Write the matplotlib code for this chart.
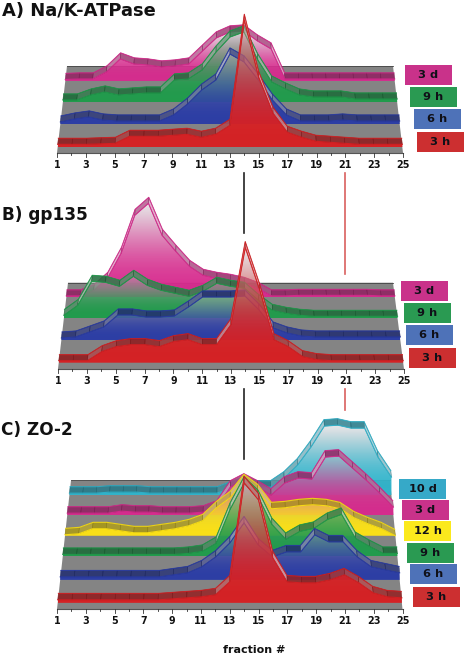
import numpy as np
import matplotlib
matplotlib.use('Agg')
from matplotlib import pyplot as plt
from matplotlib.colors import to_rgb
from matplotlib.patches import Polygon, Rectangle

fractions = list(range(1, 26))
tick_labels = list(range(1, 26, 2))
guide_fractions = [14, 21]

# heights of each curve
a_3d = [1.5, 2, 2, 9, 22, 17, 16, 14, 15, 17, 30, 43, 49, 50, 40, 32, 2, 2, 2, 2, 2, 2, 2, 2, 2]
a_9h = [2, 2, 7, 10, 7, 8, 9, 9, 22, 23, 32, 50, 65, 70, 42, 20, 13, 7, 5, 5, 5, 3, 3, 3, 3]
a_6h = [2, 5, 7, 4, 3, 3, 3, 3, 9, 20, 34, 44, 70, 62, 44, 24, 9, 3, 3, 3, 4, 3, 3, 3, 3]
a_3h = [3, 3, 3, 3.5, 4, 11, 11, 11, 12, 13, 10, 13, 22, 127, 70, 34, 15, 10, 6, 5, 4, 3, 3, 3, 3]

b_3d = [1.5, 1.5, 7, 19, 44, 82, 94, 62, 46, 31, 22, 19, 17, 14, 9, 1.5, 1.5, 2, 2, 2, 2, 2, 2, 1.5, 1.5]
b_9h = [3, 13, 37, 36, 32, 42, 33, 28, 25, 22, 27, 35, 32, 30, 18, 8, 5, 3, 2, 2, 2, 2, 2, 2, 2]
b_6h = [2, 3, 8, 13, 25, 25, 23, 23, 24, 33, 43, 43, 43, 44, 30, 12, 7, 4, 3, 3, 3, 3, 3, 3, 3]
b_3h = [2, 2, 2, 11, 16, 18, 18, 16, 21, 23, 18, 18, 38, 115, 73, 23, 16, 6, 3, 2, 2, 2, 2, 2, 2]

c_10d = [2, 2, 2, 3, 3, 3, 2, 2, 2, 2, 2, 2, 7, 12, 8, 8, 17, 30, 48, 69, 70, 67, 67, 38, 18]
c_3d = [2, 2, 2, 2, 4, 3, 3, 2, 2, 2, 3, 8, 28, 35, 28, 20, 32, 37, 36, 58, 59, 47, 35, 22, 8]
c_12h = [1, 2, 7, 7, 5, 3, 3, 5, 7, 10, 15, 28, 38, 55, 45, 27, 28, 30, 31, 30, 27, 18, 12, 7, 0]
c_9h = [2, 2, 2, 2, 2, 2, 2, 2, 2, 3, 5, 13, 47, 73, 60, 32, 17, 25, 28, 37, 42, 18, 10, 3, 3]
c_6h = [3, 3, 3, 3, 3, 3, 3, 3, 5, 7, 13, 23, 37, 57, 35, 23, 28, 28, 45, 38, 38, 23, 13, 10, 7]
c_3h = [3, 3, 3, 3, 3, 3, 3, 3, 4, 5, 6, 8, 21, 120, 103, 45, 21, 20, 20, 23, 28, 20, 10, 6, 5]

COLORS = {'10 d': '#2FB4CC', '3 d': '#D82A8E', '12 h': '#FFE414', '9 h': '#1F9C4B', '6 h': '#2A3CA6', '3 h': '#D81F22'}
LEGEND_COLORS = {'10 d': '#36A9C8', '3 d': '#C9328A', '12 h': '#FBE91D', '9 h': '#2A9A52', '6 h': '#4E72B8', '3 h': '#CC2F30'}

# front_y, back_y, front x range, back x range
panels = [
    dict(title='A) Na/K-ATPase', title_size=12.9, title_xy=(2, 11), front_y=153, back_y=66, fx=(57, 403), bx=(67, 393), thick=0.07,
         series=[('3 d', a_3d, 0.828, (405, 65)), ('9 h', a_9h, 0.586, (410, 87)),
                 ('6 h', a_6h, 0.333, (414, 109)), ('3 h', a_3h, 0.065, (417, 132))]),
    dict(title='B) gp135', title_size=12.2, title_xy=(2, 215), front_y=369, back_y=282.7, fx=(58, 404), bx=(68, 393), thick=0.07,
         series=[('3 d', b_3d, 0.83, (401, 281)), ('9 h', b_9h, 0.587, (404, 303)),
                 ('6 h', b_6h, 0.336, (406, 325)), ('3 h', b_3h, 0.073, (409, 348))]),
    dict(title='C) ZO-2', title_size=12.2, title_xy=(1, 430), front_y=609.3, back_y=480.3, fx=(57, 402.5), bx=(71, 390), thick=0.05,
         series=[('10 d', c_10d, 0.885, (399, 479)), ('3 d', c_3d, 0.73, (402, 500)),
                 ('12 h', c_12h, 0.57, (404, 521)), ('9 h', c_9h, 0.41, (407, 543)),
                 ('6 h', c_6h, 0.228, (410, 564)), ('3 h', c_3h, 0.05, (413, 587))]),
]


# 把 (馏分, 高度, 深度) 投影到图上的坐标
def project(p, f, h, d):
    left = p['fx'][0] + (p['bx'][0] - p['fx'][0]) * d
    right = p['fx'][1] + (p['bx'][1] - p['fx'][1]) * d
    x = left + (np.asarray(f, dtype=float) - 1) / 24 * (right - left)
    y = p['front_y'] - d * (p['front_y'] - p['back_y']) - np.asarray(h, dtype=float)
    return x, y


def draw_series(ax, p, name, values, d, z):
    color = np.array(to_rgb(COLORS[name]))
    x, y = project(p, fractions, values, d)
    base_x, base_y = project(p, [1, 25], [0, 0], d)

    # 渐变填充，越往上越透明
    n = 64
    t = np.linspace(0, 1, n)[:, None]
    rgba = np.zeros((n, 1, 4))
    rgba[:, 0, :3] = color * (1 - t ** 2.5) + np.array([0.75, 0.72, 0.74]) * t ** 2.5
    rgba[:, 0, 3] = 0.97 - 0.62 * t[:, 0] ** 2
    outline = np.column_stack([np.r_[x, base_x[1], base_x[0]], np.r_[y, base_y[1], base_y[0]]])
    im = ax.imshow(rgba, extent=(x.min(), x.max(), y.min(), base_y[0]), origin='upper', aspect='auto',
                   interpolation='bilinear', zorder=z)
    clip = Polygon(outline, closed=True, transform=ax.transData)
    im.set_clip_path(clip)

    # 顶部的带子，一段一段画
    bx, by = project(p, fractions, values, d + p['thick'])
    for i in range(24):
        slope = abs(values[i + 1] - values[i])
        steep = min(slope / 25, 1)
        dark = color * 0.62 + np.array([0.04, 0.04, 0.04])
        light = color * 0.3 + np.array([0.62, 0.6, 0.61])
        face = dark * (1 - steep) + light * steep
        quad = [(x[i], y[i]), (x[i + 1], y[i + 1]), (bx[i + 1], by[i + 1]), (bx[i], by[i])]
        ax.add_patch(Polygon(quad, closed=True, facecolor=face, edgecolor=color * 0.55, linewidth=0.35,
                             alpha=0.88, zorder=z + 0.1))
    ax.plot(bx, by, color=color, lw=0.8, alpha=0.8, zorder=z + 0.2)
    ax.plot(x, y, color=color, lw=0.8, alpha=0.9, zorder=z + 0.2)


def draw_panel(ax, p, z):
    fx, fy = project(p, [1, 25], [0, 0], 0)
    bx, by = project(p, [1, 25], [0, 0], 1)
    ax.add_patch(Polygon([(fx[0], fy[0]), (fx[1], fy[1]), (bx[1], by[1]), (bx[0], by[0])], closed=True,
                         facecolor='#848484', edgecolor='none', zorder=z))
    ax.plot([bx[0], bx[1]], [by[0], by[1]], color='#444444', lw=0.6, zorder=z)

    for k, (name, values, d, box) in enumerate(p['series']):
        draw_series(ax, p, name, values, d, z + 1 + k)
        ax.add_patch(Rectangle(box, 46.5, 20, facecolor=LEGEND_COLORS[name], edgecolor='none', zorder=z + 20))
        ax.text(box[0] + 23.5, box[1] + 10.3, name, ha='center', va='center', fontsize=8.2, fontweight='bold',
                color='#101018', zorder=z + 21)

    # 坐标轴和刻度
    tx, ty = project(p, fractions, np.zeros(25), 0)
    ax.plot([tx[0], tx[-1]], [ty[0], ty[0]], color='#555555', lw=0.8, zorder=z + 15)
    for i, f in enumerate(fractions):
        ax.plot([tx[i], tx[i]], [ty[i], ty[i] + (3.5 if f % 2 else 2)], color='#333333', lw=0.6, zorder=z + 15)
    for f in tick_labels:
        ax.text(tx[f - 1], ty[0] + 11.5, str(f), ha='center', va='center', fontsize=6.9, fontweight='bold',
                color='#111111')
    ax.text(p['title_xy'][0], p['title_xy'][1], p['title'], ha='left', va='center', fontsize=p['title_size'],
            fontweight='bold', color='#111111')


def main():
    fig = plt.figure(figsize=(4.68, 6.58), dpi=100)
    ax = fig.add_axes([0, 0, 1, 1])

    for i, p in enumerate(panels):
        draw_panel(ax, p, 10 + i * 30)

    # 贯穿三个面板的竖线
    gx, _ = project(panels[0], guide_fractions, [0, 0], 0)
    for y0, y1 in [(173, 233), (389, 459)]:
        ax.plot([gx[0], gx[0]], [y0, y1], color='#222222', lw=1.2)
    for y0, y1 in [(173, 274), (389, 410)]:
        ax.plot([gx[1], gx[1]], [y0, y1], color='#D9605F', lw=1.2)

    ax.text(254, 650, 'fraction #', ha='center', va='center', fontsize=8, fontweight='bold', color='#111111')

    ax.set_xlim(0, 468)
    ax.set_ylim(658, 0)
    ax.axis('off')
    fig.savefig('out.png', dpi=100, facecolor='white')


if __name__ == '__main__':
    main()
